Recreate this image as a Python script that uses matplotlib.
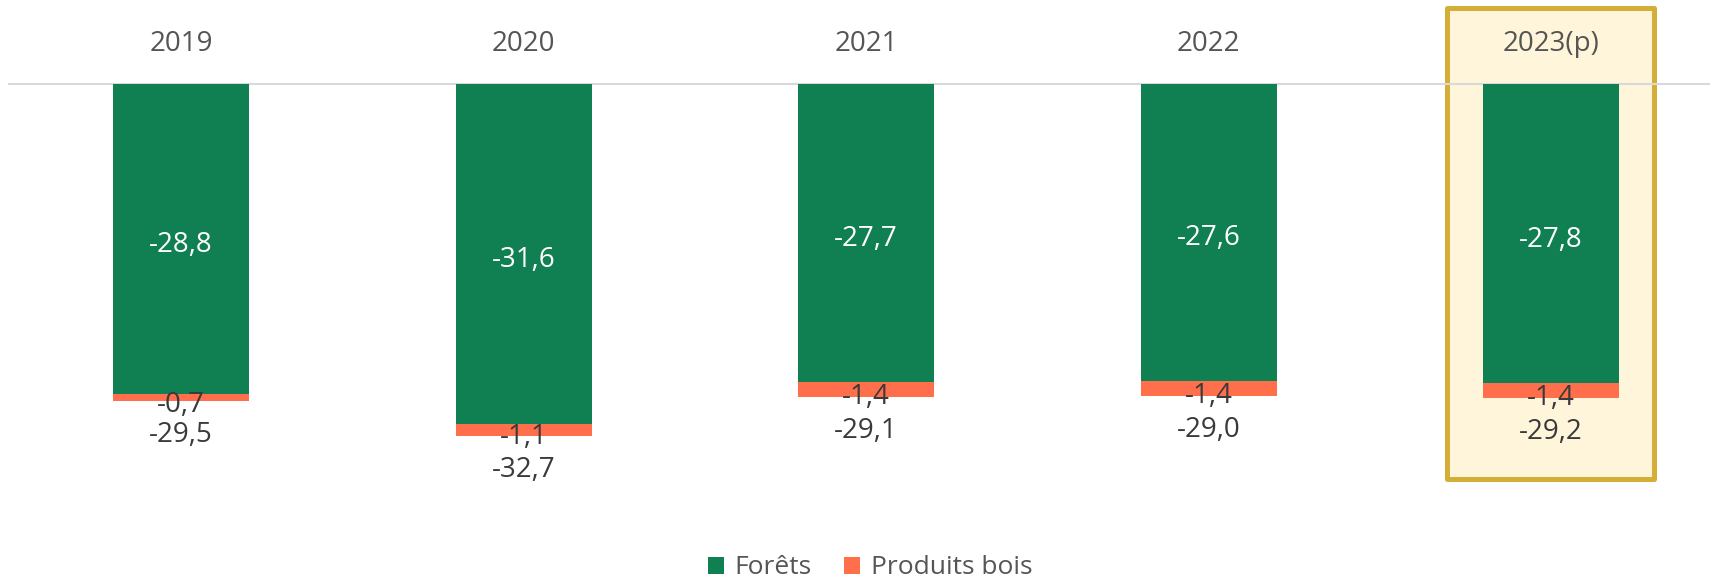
import matplotlib
matplotlib.use("Agg")
import matplotlib.pyplot as plt
from matplotlib.patches import Rectangle, Patch

plt.rcParams['font.family'] = ['Open Sans', 'DejaVu Sans']

years = ["2019", "2020", "2021", "2022", "2023(p)"]
forets = [-28.8, -31.6, -27.7, -27.6, -27.8]
produits_bois = [-0.7, -1.1, -1.4, -1.4, -1.4]
totals = [-29.5, -32.7, -29.1, -29.0, -29.2]

GREEN = "#107F51"
ORANGE = "#FF6F4C"

W, H = 1710, 582
fig = plt.figure(figsize=(W / 100, H / 100), dpi=100)
ax = fig.add_axes([0, 0, 1, 1])

# pixel mapping
xc0, xstep = 181, 342.5
y0px, yscale = 84, 10.76
xmin = -xc0 / xstep
xmax = xmin + W / xstep
ymax = y0px / yscale
ymin = ymax - H / yscale
ax.set_xlim(xmin, xmax)
ax.set_ylim(ymin, ymax)
ax.axis("off")

def fmt(v):
    return f"{v:.1f}".replace(".", ",")

x = list(range(len(years)))
bw = 136 / xstep

# highlight box for last year
hx0 = xmin + 1447 / xstep
hx1 = xmin + 1654 / xstep
hy_top = ymax - 8 / yscale
hy_bot = ymax - 479 / yscale
ax.add_patch(Rectangle((hx0, hy_bot), hx1 - hx0, hy_top - hy_bot,
                       facecolor="#FFF5DA", edgecolor="#D4AE36", linewidth=3.6,
                       zorder=0.5, joinstyle="round"))

ax.axhline(0, xmin=9 / W, xmax=1, color="#D9D9D9", linewidth=1.5, zorder=1)

ax.bar(x, forets, width=bw, color=GREEN, zorder=2)
ax.bar(x, produits_bois, width=bw, bottom=forets, color=ORANGE, zorder=2)

fs = 20
for i in x:
    ax.annotate(years[i], (i, 0), xytext=(0, 40), textcoords="offset pixels",
                ha="center", va="center", fontsize=fs, color="#555555", zorder=3)
    ax.annotate(fmt(forets[i]), (i, forets[i] / 2), xytext=(0, -6),
                textcoords="offset pixels", ha="center", va="center",
                fontsize=fs, color="white", zorder=3)
    ax.annotate(fmt(produits_bois[i]), (i, forets[i] + produits_bois[i] / 2),
                xytext=(0, -7), textcoords="offset pixels",
                ha="center", va="center", fontsize=fs, color="#3A3A3A", zorder=3)
    ax.annotate(fmt(totals[i]), (i, forets[i] + produits_bois[i]),
                xytext=(0, -34), textcoords="offset pixels",
                ha="center", va="center", fontsize=fs, color="#3A3A3A", zorder=3)

handles = [Patch(facecolor=GREEN, label="Forêts"),
           Patch(facecolor=ORANGE, label="Produits bois")]
leg = fig.legend(handles=handles, loc="center", bbox_to_anchor=(870 / W, 1 - 568 / H),
                 ncol=2, frameon=False, fontsize=19, handlelength=0.62,
                 handleheight=0.62, handletextpad=0.4, columnspacing=1.2,
                 borderpad=0, borderaxespad=0)
for t in leg.get_texts():
    t.set_color("#555555")

fig.savefig("out.png", dpi=100)
